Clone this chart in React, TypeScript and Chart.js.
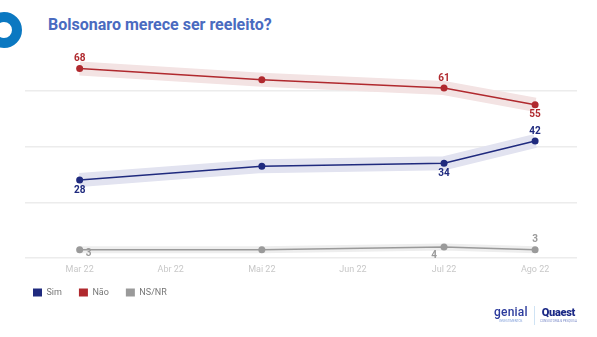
import React, { useEffect, useRef } from "react";
import { Chart, registerables } from "chart.js";

Chart.register(...registerables);

const months = ["Mar 22", "Abr 22", "Mai 22", "Jun 22", "Jul 22", "Ago 22"];
const simValues: (number | null)[] = [28, null, 33, null, 34, 42];
const naoValues: (number | null)[] = [68, null, 64, null, 61, 55];
const nsnrValues: (number | null)[] = [3, null, 3, null, 4, 3];
const seriesNames = ["Sim", "Não", "NS/NR"];
const titleText = "Bolsonaro merece ser reeleito?";

const toPoints = (vals: (number | null)[]) =>
  vals
    .map((v, i) => (v === null ? null : { x: i, y: v }))
    .filter((p) => p !== null) as { x: number; y: number }[];

const valueLabels = {
  id: "valueLabels",
  afterDatasetsDraw(chart: any) {
    const ctx = chart.ctx;
    ctx.save();
    ctx.font = "bold 10px Roboto";
    ctx.textAlign = "center";
    ctx.textBaseline = "middle";
    chart.data.datasets.forEach((ds: any, i: number) => {
      const offs = ds.labelOffsets;
      if (!offs) return;
      const meta = chart.getDatasetMeta(i);
      meta.data.forEach((pt: any, j: number) => {
        const d = ds.data[j];
        const off = offs[d.x];
        if (!off) return;
        ctx.fillStyle = ds.labelColor;
        ctx.fillText(String(d.y), pt.x + off[0], pt.y + off[1]);
      });
    });
    ctx.restore();
  },
};

// moves the legend row up a little after layout
const legendNudge = {
  id: "legendNudge",
  afterLayout(chart: any) {
    const l = chart.legend;
    if (l) {
      l.top -= 10;
      l.bottom -= 10;
    }
  },
};

export default function App() {
  const canvasRef = useRef<HTMLCanvasElement | null>(null);

  useEffect(() => {
    const canvas = canvasRef.current;
    if (!canvas) return;

    const colors = ["#1f2a7e", "#b0292e", "#9a9a9a"];
    const bandColors = ["#e2e3f0", "#f3e3e3", "#eeeeee"];
    const bandWidths = [14, 14, 7];
    const labelOffsets = [
      [[0, 10], null, null, null, [0, 10], [0, -10]],
      [[0, -10], null, null, null, [0, -10], [0, 10]],
      [[9, 4], null, null, null, [-10, 8], [0, -10]],
    ];
    const seriesValues = [simValues, naoValues, nsnrValues];

    const lineSets = seriesValues.map((vals, k) => ({
      label: seriesNames[k],
      data: toPoints(vals),
      borderColor: colors[k],
      backgroundColor: colors[k],
      borderWidth: 1.5,
      pointRadius: 3.5,
      pointBorderWidth: 0,
      pointBackgroundColor: colors[k],
      tension: 0,
      labelOffsets: labelOffsets[k],
      labelColor: colors[k],
    }));
    const bandSets = seriesValues.map((vals, k) => ({
      label: seriesNames[k] + " band",
      data: toPoints(vals),
      borderColor: bandColors[k],
      backgroundColor: bandColors[k],
      borderWidth: bandWidths[k],
      borderCapStyle: "butt",
      pointRadius: 0,
      tension: 0,
    }));

    const chart = new Chart(canvas, {
      type: "line",
      data: { datasets: [...lineSets, ...bandSets] as any },
      options: {
        responsive: false,
        animation: false,
        layout: { padding: { left: 16, right: 20, top: 35, bottom: 20 } },
        scales: {
          x: {
            type: "linear",
            min: -0.6,
            max: 5.46,
            grid: { display: false, drawTicks: false },
            border: { display: false },
            ticks: {
              stepSize: 1,
              includeBounds: false,
              autoSkip: false,
              maxRotation: 0,
              padding: 6,
              color: "#c8c8c8",
              font: { family: "Roboto", size: 9 },
              callback: (v: any) => months[v] ?? "",
            },
          },
          y: {
            min: 0,
            max: 80,
            grid: {
              drawTicks: false,
              lineWidth: 1.5,
              color: (c: any) => (c.tick && c.tick.value === 80 ? "rgba(0,0,0,0)" : "#ececec"),
            },
            border: { display: false },
            ticks: { display: false, stepSize: 20 },
            afterFit: (axis: any) => {
              axis.width = 9;
            },
          },
        },
        plugins: {
          legend: {
            position: "bottom",
            align: "start",
            labels: {
              boxWidth: 9,
              boxHeight: 8,
              padding: 17,
              color: "#777",
              font: { family: "Roboto", size: 9 },
              filter: (item: any) => item.datasetIndex < 3,
              generateLabels: (ch: any) =>
                Chart.defaults.plugins.legend.labels
                  .generateLabels(ch)
                  .map((l: any) => ({ ...l, lineWidth: 0 })),
            },
          },
          tooltip: { enabled: false },
        },
      },
      plugins: [valueLabels, legendNudge],
    } as any);

    return () => chart.destroy();
  }, []);

  return (
    <div
      style={{
        position: "fixed",
        left: 0,
        top: 0,
        width: 597,
        height: 337,
        background: "#fff",
        overflow: "hidden",
      }}
    >
      <div
        style={{
          position: "absolute",
          left: 4 - 18,
          top: 30 - 18,
          width: 16,
          height: 16,
          borderRadius: "50%",
          border: "10px solid #0b78c1",
        }}
      />
      <div
        style={{
          position: "absolute",
          left: 48,
          top: 14.5,
          lineHeight: "20px",
          fontFamily: "Roboto",
          fontWeight: 700,
          fontSize: 16,
          color: "#4a6bc0",
          whiteSpace: "nowrap",
        }}
      >
        {titleText}
      </div>
      <canvas ref={canvasRef} width={597} height={337} style={{ position: "absolute", left: 0, top: 0 }} />
      <div
        style={{
          position: "absolute",
          left: 494,
          top: 306,
          fontFamily: "Roboto",
          color: "#2b3a9c",
          textAlign: "center",
        }}
      >
        <div style={{ fontSize: 12, fontWeight: 500, lineHeight: "13px", letterSpacing: 0.2 }}>genial</div>
        <div style={{ fontSize: 3, lineHeight: "4px", color: "#7a9ad8" }}>INVESTIMENTOS</div>
      </div>
      <div
        style={{
          position: "absolute",
          left: 534,
          top: 306,
          width: 1,
          height: 19,
          background: "#cfe3f4",
        }}
      />
      <div
        style={{
          position: "absolute",
          left: 540,
          top: 307,
          fontFamily: "Roboto",
          color: "#1c2a86",
          textAlign: "center",
        }}
      >
        <div style={{ fontSize: 11, fontWeight: 900, lineHeight: "12px", letterSpacing: -0.3 }}>Quaest</div>
        <div style={{ fontSize: 3, lineHeight: "4px", color: "#7a8ac8" }}>CONSULTORIA &amp; PESQUISA</div>
      </div>
    </div>
  );
}
